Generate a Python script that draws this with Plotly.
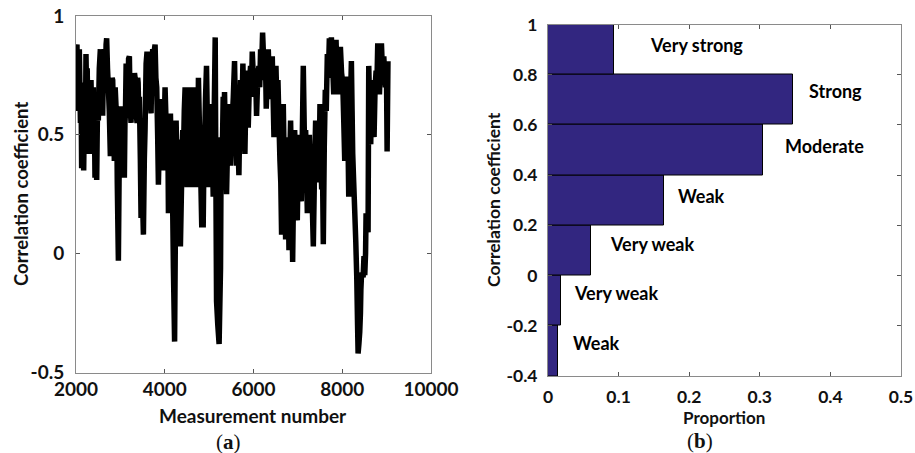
import plotly.graph_objects as go

# ---- (a) correlation coefficient per measurement ----
measurement = [
    2000, 2010, 2022, 2032, 2045, 2058, 2075, 2088, 2100, 2113,
    2127, 2140, 2150, 2162, 2173, 2187, 2200, 2212, 2225, 2240,
    2252, 2263, 2280, 2300, 2318, 2338, 2355, 2376, 2390, 2400,
    2414, 2428, 2447, 2466, 2485, 2503, 2525, 2549, 2562, 2575,
    2588, 2601, 2620, 2639, 2652, 2665, 2678, 2691, 2710, 2729,
    2750, 2774, 2788, 2800, 2814, 2827, 2845, 2864, 2883, 2902,
    2918, 2930, 2955, 2970, 2985, 2999, 3015, 3030, 3042, 3052,
    3070, 3090, 3103, 3115, 3130, 3143, 3158, 3170, 3185, 3203,
    3220, 3240, 3260, 3278, 3292, 3305, 3318, 3331, 3352, 3376,
    3390, 3400, 3415, 3428, 3450, 3466, 3490, 3519, 3540, 3556,
    3580, 3601, 3615, 3630, 3642, 3654, 3672, 3692, 3710, 3729,
    3742, 3755, 3768, 3782, 3800, 3819, 3840, 3857, 3880, 3902,
    3918, 3932, 3950, 3970, 3990, 4007, 4030, 4053, 4068, 4083,
    4105, 4128, 4143, 4158, 4175, 4195, 4222, 4240, 4256, 4272,
    4290, 4308, 4330, 4353, 4380, 4395, 4406, 4420, 4440, 4459,
    4480, 4504, 4522, 4541, 4565, 4594, 4620, 4636, 4654, 4675,
    4699, 4715, 4730, 4745, 4759, 4780, 4804, 4834, 4850, 4866,
    4880, 4896, 4918, 4941, 4965, 4994, 5008, 5020, 5035, 5047,
    5070, 5092, 5115, 5137, 5150, 5167, 5195, 5225, 5257, 5272,
    5295, 5317, 5332, 5347, 5370, 5393, 5420, 5445, 5465, 5483,
    5500, 5520, 5545, 5573, 5595, 5618, 5645, 5671, 5690, 5708,
    5735, 5761, 5785, 5806, 5825, 5844, 5862, 5881, 5908, 5934,
    5952, 5972, 5998, 6024, 6045, 6069, 6095, 6122, 6140, 6160,
    6182, 6205, 6228, 6250, 6268, 6287, 6310, 6333, 6360, 6385,
    6405, 6423, 6442, 6461, 6484, 6506, 6530, 6551, 6574, 6596,
    6615, 6633, 6652, 6671, 6695, 6724, 6742, 6761, 6780, 6799,
    6818, 6836, 6860, 6882, 6905, 6927, 6955, 6987, 7005, 7024,
    7050, 7077, 7100, 7122, 7150, 7175, 7195, 7213, 7235, 7258,
    7280, 7302, 7325, 7348, 7375, 7400, 7425, 7453, 7475, 7498,
    7518, 7536, 7555, 7573, 7595, 7618, 7640, 7664, 7686, 7709,
    7732, 7755, 7782, 7808, 7835, 7860, 7883, 7906, 7932, 7958,
    7985, 8011, 8035, 8056, 8080, 8095, 8109, 8128, 8146, 8165,
    8180, 8206, 8222, 8236, 8258, 8281, 8305, 8327, 8345, 8357,
    8375, 8394, 8410, 8420, 8432, 8450, 8470, 8490, 8507, 8525,
    8537, 8560, 8582, 8597, 8620, 8642, 8658, 8672, 8695, 8717,
    8740, 8763, 8782, 8800, 8820, 8838, 8860, 8883, 8910, 8936,
    8955, 8973, 8995, 9011, 9030,
]
correlation = [
    0.70, 0.86, 0.88, 0.66, 0.80, 0.60, 0.86, 0.70, 0.55, 0.72,
    0.36, 0.60, 0.52, 0.70, 0.35, 0.58, 0.70, 0.50, 0.84, 0.66,
    0.78, 0.63, 0.72, 0.42, 0.60, 0.73, 0.55, 0.62, 0.70, 0.45,
    0.60, 0.32, 0.50, 0.31, 0.62, 0.56, 0.78, 0.86, 0.62, 0.70,
    0.85, 0.58, 0.80, 0.86, 0.68, 0.75, 0.88, 0.906, 0.78, 0.70,
    0.60, 0.41, 0.66, 0.60, 0.74, 0.73, 0.58, 0.39, 0.70, 0.62,
    0.58, 0.30, -0.03, 0.30, 0.58, 0.60, 0.62, 0.48, 0.62, 0.60,
    0.45, 0.32, 0.55, 0.60, 0.80, 0.79, 0.60, 0.65, 0.82, 0.83,
    0.62, 0.55, 0.74, 0.72, 0.60, 0.58, 0.76, 0.74, 0.60, 0.55,
    0.74, 0.72, 0.58, 0.66, 0.40, 0.15, 0.30, 0.08, 0.40, 0.52,
    0.80, 0.85, 0.65, 0.62, 0.84, 0.83, 0.66, 0.59, 0.80, 0.86,
    0.72, 0.70, 0.86, 0.88, 0.74, 0.70, 0.50, 0.29, 0.50, 0.65,
    0.55, 0.65, 0.50, 0.35, 0.55, 0.70, 0.55, 0.42, 0.55, 0.17,
    0.45, 0.59, 0.45, 0.17, 0.25, -0.06, -0.37, 0.10, 0.56, 0.40,
    0.30, 0.48, 0.35, 0.03, 0.30, 0.45, 0.52, 0.40, 0.60, 0.70,
    0.45, 0.28, 0.55, 0.70, 0.45, 0.28, 0.55, 0.45, 0.70, 0.50,
    0.28, 0.45, 0.55, 0.45, 0.74, 0.55, 0.39, 0.11, 0.40, 0.11,
    0.35, 0.45, 0.65, 0.79, 0.50, 0.28, 0.45, 0.50, 0.38, 0.63,
    0.45, 0.24, 0.60, 0.91, 0.40, -0.20, -0.30, -0.38, -0.06, 0.49,
    0.40, 0.66, 0.45, 0.68, 0.45, 0.25, 0.50, 0.63, 0.45, 0.37,
    0.50, 0.56, 0.66, 0.81, 0.55, 0.37, 0.50, 0.33, 0.55, 0.73,
    0.55, 0.80, 0.60, 0.42, 0.62, 0.77, 0.62, 0.53, 0.72, 0.79,
    0.66, 0.85, 0.74, 0.66, 0.78, 0.58, 0.74, 0.79, 0.70, 0.86,
    0.78, 0.93, 0.82, 0.73, 0.84, 0.61, 0.74, 0.86, 0.70, 0.77,
    0.65, 0.83, 0.66, 0.49, 0.70, 0.79, 0.60, 0.73, 0.55, 0.39,
    0.30, 0.08, 0.40, 0.63, 0.35, 0.06, 0.35, 0.49, 0.30, 0.014,
    0.40, 0.56, 0.30, -0.035, 0.30, 0.52, 0.35, 0.14, 0.35, 0.50,
    0.35, 0.22, 0.50, 0.79, 0.45, 0.52, 0.35, 0.17, 0.35, 0.50,
    0.35, 0.39, 0.20, 0.03, 0.35, 0.56, 0.35, 0.50, 0.30, 0.63,
    0.40, 0.27, 0.35, 0.04, 0.45, 0.69, 0.60, 0.84, 0.74, 0.906,
    0.78, 0.91, 0.80, 0.67, 0.82, 0.90, 0.74, 0.67, 0.80, 0.87,
    0.76, 0.72, 0.55, 0.39, 0.60, 0.50, 0.745, 0.50, 0.24, 0.45,
    0.60, 0.81, 0.60, 0.42, 0.30, 0.18, 0.05, -0.10, -0.30, -0.42,
    -0.38, -0.33, -0.25, -0.15, -0.10, -0.08, -0.10, -0.01, -0.09, 0.00,
    0.17, 0.12, 0.09, 0.79, 0.60, 0.46, 0.70, 0.73, 0.60, 0.49,
    0.70, 0.77, 0.72, 0.885, 0.74, 0.67, 0.80, 0.885, 0.75, 0.83,
    0.76, 0.70, 0.80, 0.43, 0.81,
]
assert len(measurement) == len(correlation)

# ---- (b) distribution of the coefficient per band ----
bin_centers = [-0.3, -0.1, 0.1, 0.3, 0.5, 0.7, 0.9]
proportion = [0.0137, 0.018, 0.061, 0.164, 0.305, 0.347, 0.094]
band_labels = ["Weak", "Very weak", "Very weak", "Weak", "Moderate", "Strong", "Very strong"]
band_label_x = [0.069, 0.097, 0.147, 0.217, 0.391, 0.407, 0.210]
band_label_y = [-0.267, -0.071, 0.124, 0.315, 0.518, 0.7365, 0.917]

# tick labels
a_xticks = [2000, 4000, 6000, 8000, 10000]
a_xtext = ["2000", "4000", "6000", "8000", "10000"]
a_yticks = [-0.5, 0, 0.5, 1]
a_ytext = ["-0.5", "0", "0.5", "1"]
b_xticks = [0, 0.1, 0.2, 0.3, 0.4, 0.5]
b_xtext = ["0", "0.1", "0.2", "0.3", "0.4", "0.5"]
b_yticks = [-0.4, -0.2, 0, 0.2, 0.4, 0.6, 0.8, 1]
b_ytext = ["-0.4", "-0.2", "0", "0.2", "0.4", "0.6", "0.8", "1"]

W, H = 915, 453
FONT = "Lato"
INK = "#111111"
BAR = "#322680"


def px(x):
    return x / W


def py(y):
    return 1 - y / H


fig = go.Figure()

fig.add_trace(go.Scatter(
    x=measurement, y=correlation, mode="lines",
    line=dict(color="black", width=5.5, shape="linear", simplify=False),
    xaxis="x", yaxis="y", showlegend=False, hoverinfo="x+y",
))

fig.add_trace(go.Bar(
    x=proportion, y=bin_centers, orientation="h", width=0.2,
    marker=dict(color=BAR, line=dict(color="black", width=1)),
    xaxis="x2", yaxis="y2", showlegend=False,
))

axis_common = dict(
    showline=True, linecolor="#8a8a8a", linewidth=1, mirror="ticks",
    ticks="inside", ticklen=4, tickcolor="#555", tickwidth=1,
    showgrid=False, zeroline=False, automargin=False,
)

fig.update_layout(
    width=W, height=H,
    margin=dict(l=0, r=0, t=0, b=0),
    paper_bgcolor="white", plot_bgcolor="white",
    bargap=0,
    xaxis=dict(domain=[px(76), px(431)], range=[2000, 10000], anchor="y",
               tickvals=a_xticks, ticktext=a_xtext, ticklabelstandoff=0,
               tickfont=dict(family=FONT, size=19, color=INK, weight="bold"),
               **axis_common),
    yaxis=dict(domain=[py(372.5), py(16)], range=[-0.5, 1], anchor="x",
               tickvals=a_yticks, ticktext=a_ytext, ticklabelstandoff=7,
               tickfont=dict(family=FONT, size=19, color=INK, weight="bold"),
               **axis_common),
    xaxis2=dict(domain=[px(548), px(901)], range=[0, 0.5], anchor="y2",
                tickvals=b_xticks, ticktext=b_xtext, ticklabelstandoff=5,
                tickfont=dict(family=FONT, size=17.5, color=INK, weight="bold"),
                **axis_common),
    yaxis2=dict(domain=[py(376), py(24.5)], range=[-0.4, 1], anchor="x2",
                tickvals=b_yticks, ticktext=b_ytext, ticklabelstandoff=6,
                tickfont=dict(family=FONT, size=17.5, color=INK, weight="bold"),
                **axis_common),
)

annotations = []


def paper_text(text, x, y, size, family=FONT, angle=0, bold=True):
    annotations.append(dict(
        text=text, x=px(x), y=py(y), xref="paper", yref="paper",
        showarrow=False, xanchor="center", yanchor="middle", textangle=angle,
        font=dict(family=family, size=size, color=INK,
                  weight="bold" if bold else "normal"),
    ))


# axis titles
paper_text("Measurement number", 253, 415, 19)
paper_text("Correlation coefficient", 21, 194, 18.5, angle=-90)
paper_text("Proportion", 724, 417, 17)
paper_text("Correlation coefficient", 493, 200, 17.5, angle=-90)

# panel captions
paper_text("(<b>a</b>)", 229, 442, 21, family="Liberation Serif", bold=False)
paper_text("(<b>b</b>)", 700, 441, 21, family="Liberation Serif", bold=False)

# band labels beside the bars
for lab, lx, ly in zip(band_labels, band_label_x, band_label_y):
    annotations.append(dict(
        text=lab, x=lx, y=ly, xref="x2", yref="y2", showarrow=False,
        xanchor="center", yanchor="middle",
        font=dict(family=FONT, size=18, color="black", weight="bold"),
    ))

fig.update_layout(annotations=annotations)

fig.write_html("out.html")
